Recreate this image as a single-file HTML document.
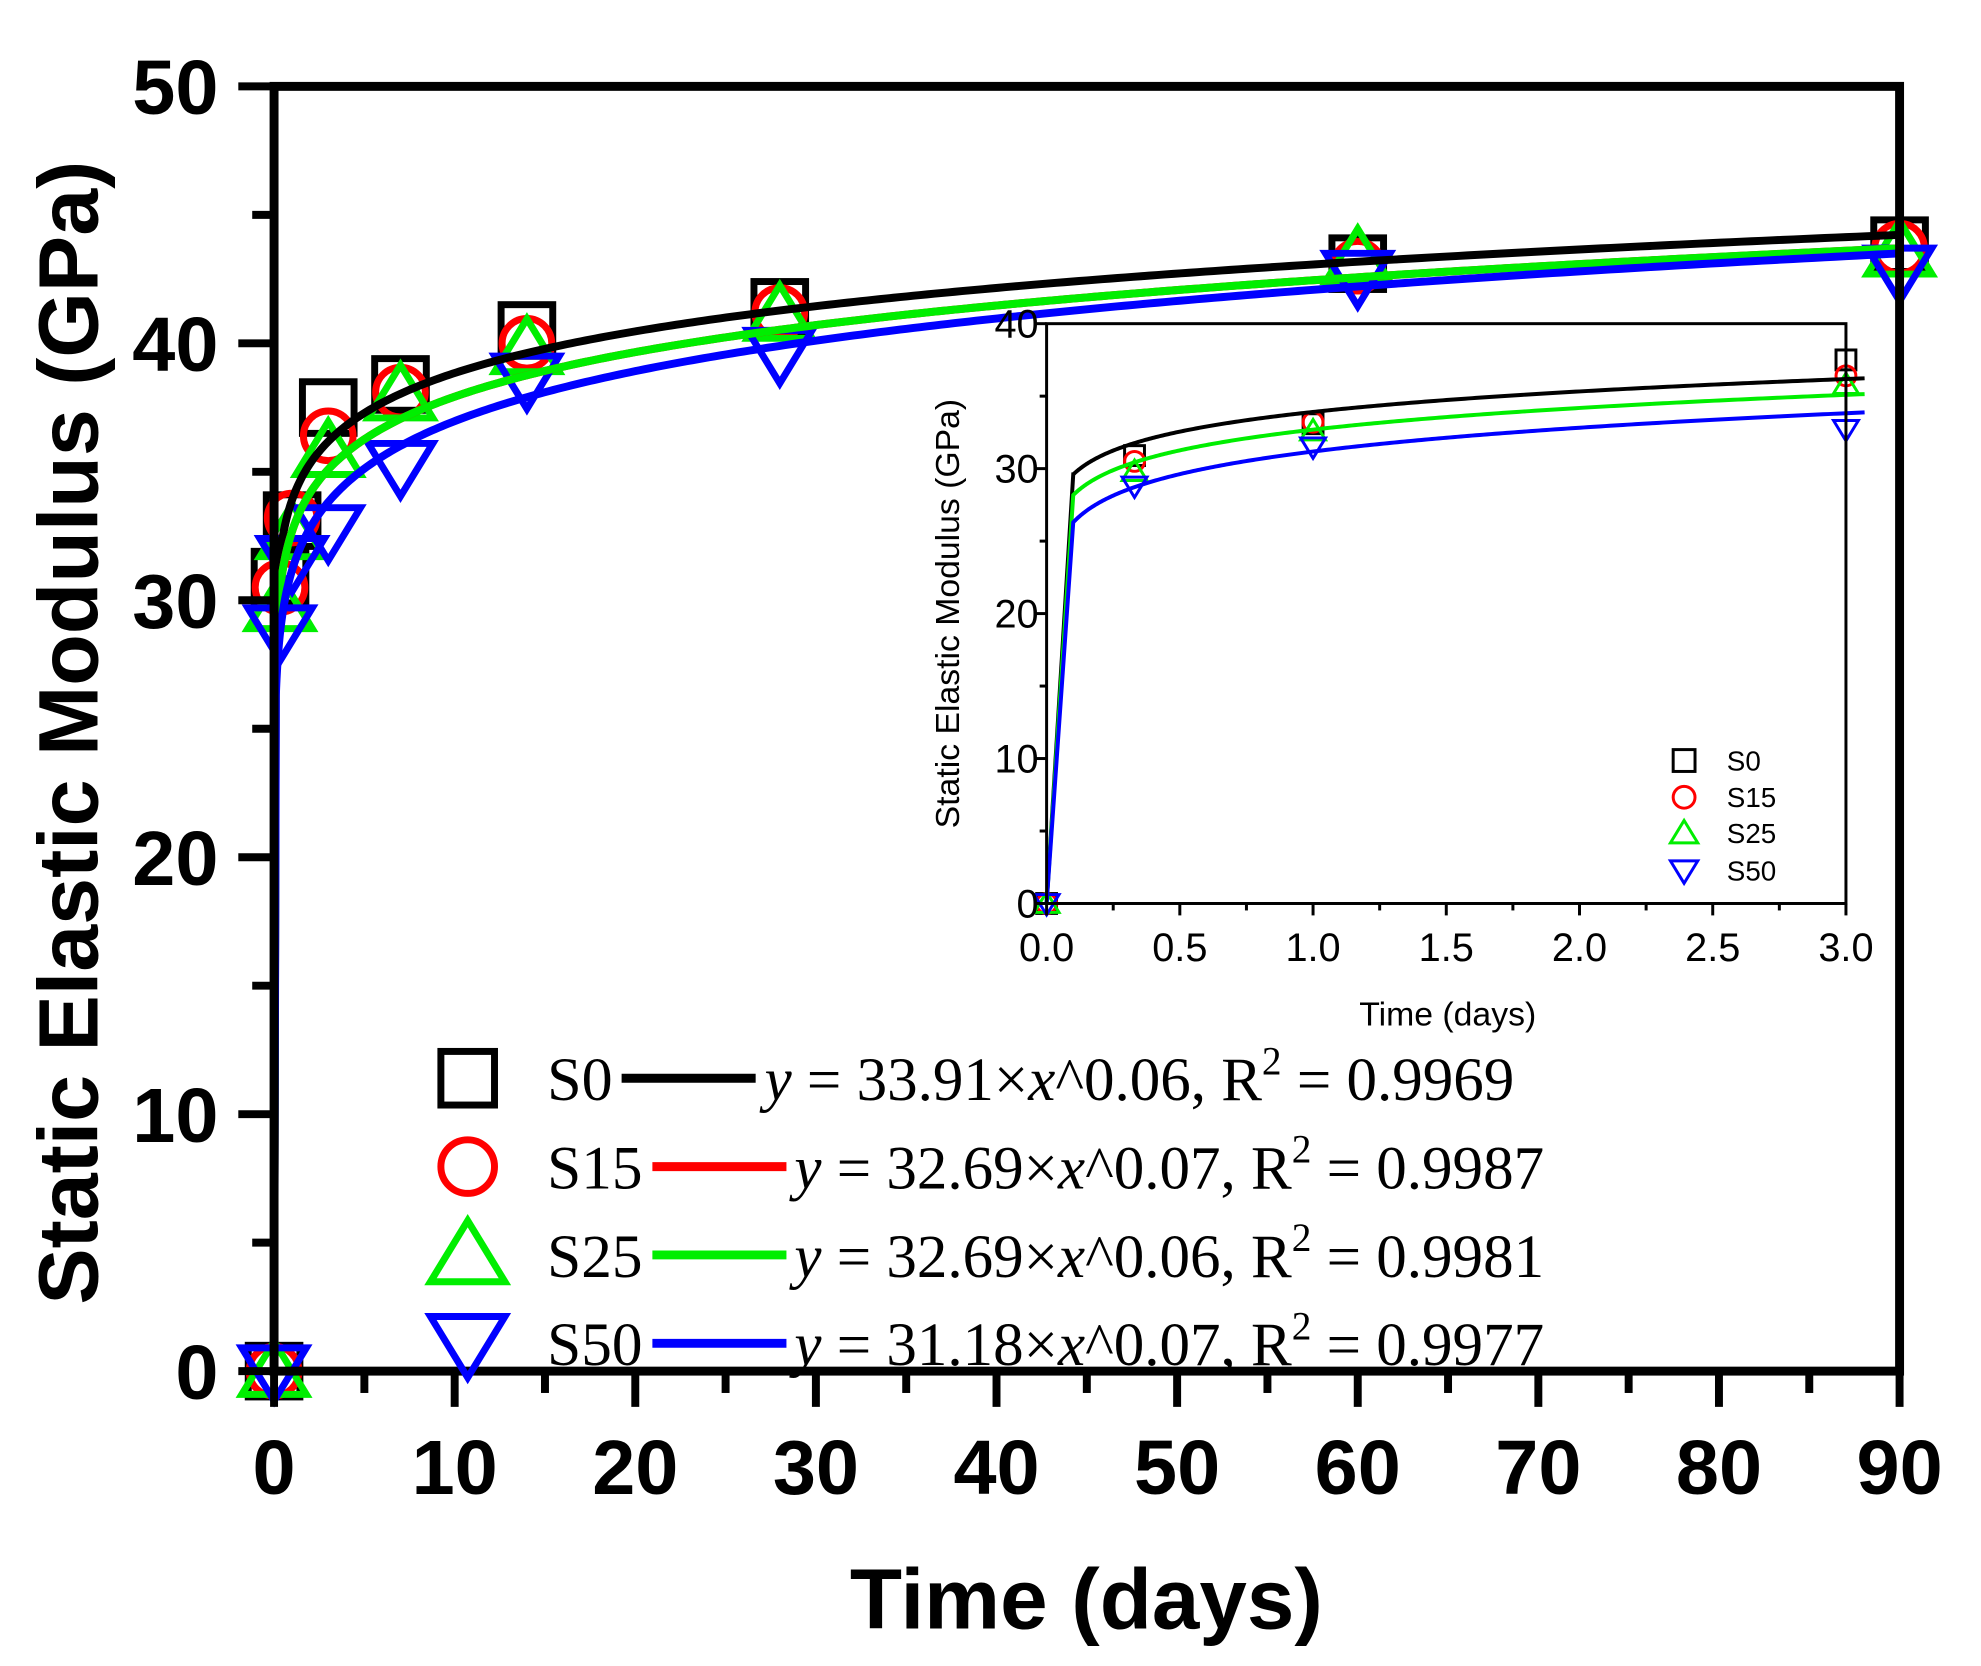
<!DOCTYPE html>
<html><head><meta charset="utf-8"><style>html,body{margin:0;padding:0;background:#fff}svg{display:block}</style></head>
<body>
<svg id="chart" xmlns="http://www.w3.org/2000/svg" width="1981" height="1666" viewBox="0 0 1995 1678" preserveAspectRatio="none">
<rect width="1995" height="1678" fill="#fff"/>
<g id="main"></g>
<g id="inset"></g>
</svg>
<script>
const days = [0, 0.33, 1, 3, 7, 14, 28, 60, 90];
const s0 = [0, 30.9, 33.1, 37.5, 38.4, 40.5, 41.4, 43.1, 43.8];
const s15 = [0, 30.5, 33.2, 36.4, 38.1, 40.0, 41.2, 43.0, 43.7];
const s25 = [0, 29.8, 32.6, 35.8, 38.0, 39.8, 41.1, 43.3, 43.6];
const s50 = [0, 28.8, 31.5, 32.7, 35.2, 38.6, 39.6, 42.6, 42.8];
const fitA = [33.91, 32.69, 32.69, 31.18];
const fitB = [0.059, 0.0645, 0.0645, 0.074];
const seriesNames = ["S0", "S15", "S25", "S50"];
const equations = ["33.91×", "32.69×", "32.69×", "31.18×"];
const eqExp = ["0.06", "0.07", "0.06", "0.07"];
const r2 = ["0.9969", "0.9987", "0.9981", "0.9977"];
const xTicks = [0, 10, 20, 30, 40, 50, 60, 70, 80, 90];
const yTicks = [0, 10, 20, 30, 40, 50];
const insetXTicks = ["0.0", "0.5", "1.0", "1.5", "2.0", "2.5", "3.0"];
const insetYTicks = [0, 10, 20, 30, 40];

const NS = "http://www.w3.org/2000/svg";
const colors = ["#000000", "#ff0000", "#00ee00", "#0000ff"];
const shapes = ["square", "circle", "up", "down"];
const allVals = [s0, s15, s25, s50];
function mk(parent, tag, attrs, text) {
  const e = document.createElementNS(NS, tag);
  for (const k in attrs) e.setAttribute(k, attrs[k]);
  if (text !== undefined) e.textContent = text;
  parent.appendChild(e);
  return e;
}
const M = {l: 276, r: 1913, t: 87, b: 1381, xmax: 90, ymax: 50};
const mx = d => M.l + d * (M.r - M.l) / M.xmax;
const my = v => M.b - v * (M.b - M.t) / M.ymax;
const I = {l: 1054, r: 1859, t: 326, b: 910, xmax: 3, ymax: 40};
const ix = d => I.l + d * (I.r - I.l) / I.xmax;
const iy = v => I.b - v * (I.b - I.t) / I.ymax;

function marker(parent, shape, cx, cy, s, color, sw, name) {
  let e;
  if (shape === "square") e = mk(parent, "rect", {x: cx - s, y: cy - s, width: 2 * s, height: 2 * s});
  else if (shape === "circle") e = mk(parent, "circle", {cx: cx, cy: cy, r: s});
  else if (shape === "up") e = mk(parent, "polygon", {points: `${cx},${cy - s * 1.15} ${cx - s * 1.25},${cy + s * 0.9} ${cx + s * 1.25},${cy + s * 0.9}`});
  else e = mk(parent, "polygon", {points: `${cx},${cy + s * 1.15} ${cx - s * 1.25},${cy - s * 0.9} ${cx + s * 1.25},${cy - s * 0.9}`});
  e.setAttribute("fill", "none");
  e.setAttribute("stroke", color);
  e.setAttribute("stroke-width", sw);
  
  
  return e;
}
function curvePath(i, xf, yf, xmax) {
  let d = `M${xf(0)},${yf(0)}`;
  for (let k = 0; k <= 300; k++) {
    const x = 0.1 + (xmax - 0.1) * Math.pow(k / 300, 2);
    const y = fitA[i] * Math.pow(x, fitB[i]);
    d += ` L${xf(x).toFixed(2)},${yf(y).toFixed(2)}`;
  }
  return d;
}

const main = document.getElementById("main");
for (let i = 0; i < 4; i++) {
  for (let k = 0; k < days.length; k++) {
    marker(main, shapes[i], mx(days[k]), my(allVals[i][k]), i === 1 ? 25 : 26, colors[i], 7, "marker-" + seriesNames[i].toLowerCase() + "-day" + days[k]);
  }
}
for (let i = 0; i < 4; i++) {
  const p = mk(main, "path", {d: curvePath(i, mx, my, 90), fill: "none", stroke: colors[i], "stroke-width": 8});
  
  
}
const fr = mk(main, "rect", {x: M.l, y: M.t, width: M.r - M.l, height: M.b - M.t, fill: "none", stroke: "#000", "stroke-width": 9});


for (let v = 0; v <= 50; v += 5) {
  const major = v % 10 === 0;
  const t = mk(main, "line", {x1: M.l, x2: M.l - (major ? 36 : 22), y1: my(v), y2: my(v), stroke: "#000", "stroke-width": 8});
  
  
}
yTicks.forEach(v => {
  const t = mk(main, "text", {x: 220, y: my(v) + 28, "text-anchor": "end", "font-family": "Liberation Sans, sans-serif", "font-weight": "bold", "font-size": 78}, String(v));
  
  
});
for (let d = 0; d <= 90; d += 5) {
  const major = d % 10 === 0;
  const t = mk(main, "line", {x1: mx(d), x2: mx(d), y1: M.b, y2: M.b + (major ? 36 : 22), stroke: "#000", "stroke-width": 8});
  
  
}
xTicks.forEach(d => {
  const t = mk(main, "text", {x: mx(d), y: 1505, "text-anchor": "middle", "font-family": "Liberation Sans, sans-serif", "font-weight": "bold", "font-size": 78}, String(d));
  
  
});
let tt = mk(main, "text", {x: 1094, y: 1640, "text-anchor": "middle", "font-family": "Liberation Sans, sans-serif", "font-weight": "bold", "font-size": 86}, "Time (days)");


tt = mk(main, "text", {x: 0, y: 0, transform: "translate(98,738) rotate(-90)", "text-anchor": "middle", "font-family": "Liberation Sans, sans-serif", "font-weight": "bold", "font-size": 85}, "Static Elastic Modulus (GPa)");



const legY = [1086, 1175, 1264, 1353];
for (let i = 0; i < 4; i++) {
  const g = mk(main, "g", {});
  
  
  marker(g, shapes[i], 471, legY[i], i === 2 || i === 3 ? 30 : 27, colors[i], 7, "legend-marker-" + seriesNames[i].toLowerCase());
  const lab = mk(g, "text", {x: 551, y: legY[i] + 22, "font-family": "Liberation Serif, serif", "font-size": 62, textLength: i === 0 ? 66 : 96, lengthAdjust: "spacingAndGlyphs"}, seriesNames[i]);
  
  
  const x1 = i === 0 ? 626 : 657, x2 = i === 0 ? 761 : 792;
  const ln = mk(g, "line", {x1: x1, x2: x2, y1: legY[i], y2: legY[i], stroke: colors[i], "stroke-width": 9});
  
  
  const ex = i === 0 ? 770 : 800;
  const eq = mk(g, "text", {x: ex, y: legY[i] + 22, "font-family": "Liberation Serif, serif", "font-size": 62, textLength: 755, lengthAdjust: "spacingAndGlyphs"});
  
  
  mk(eq, "tspan", {"font-style": "italic"}, "y");
  mk(eq, "tspan", {}, " = " + equations[i]);
  mk(eq, "tspan", {"font-style": "italic"}, "x");
  mk(eq, "tspan", {}, "^" + eqExp[i] + ", R");
  mk(eq, "tspan", {dy: -26, "font-size": 40}, "2");
  mk(eq, "tspan", {dy: 26}, " = " + r2[i]);
}

const inset = document.getElementById("inset");


const bg = mk(inset, "rect", {x: I.l, y: I.t, width: I.r - I.l, height: I.b - I.t, fill: "#fff"});


for (let i = 0; i < 4; i++) {
  for (let k = 0; k < days.length; k++) {
    if (days[k] > 3) continue;
    marker(inset, shapes[i], ix(days[k]), iy(allVals[i][k]), 10, colors[i], 3, "inset-marker-" + seriesNames[i].toLowerCase() + "-day" + days[k]);
  }
}
for (let i = 0; i < 4; i++) {
  if (i === 1) continue;
  const p = mk(inset, "path", {d: curvePath(i, ix, iy, 3.07), fill: "none", stroke: colors[i], "stroke-width": 4});
  
  
}
const ifr = mk(inset, "rect", {x: I.l, y: I.t, width: I.r - I.l, height: I.b - I.t, fill: "none", stroke: "#000", "stroke-width": 3});


for (let v = 0; v <= 40; v += 5) {
  const t = mk(inset, "line", {x1: I.l, x2: I.l - (v % 10 === 0 ? 12 : 7), y1: iy(v), y2: iy(v), stroke: "#000", "stroke-width": 3});
  
  
}
insetYTicks.forEach(v => {
  const t = mk(inset, "text", {x: 1046, y: iy(v) + 14, "text-anchor": "end", "font-family": "Liberation Sans, sans-serif", "font-size": 40}, String(v));
  
  
});
for (let d = 0; d <= 12; d++) {
  const t = mk(inset, "line", {x1: ix(d / 4), x2: ix(d / 4), y1: I.b, y2: I.b + (d % 2 === 0 ? 12 : 7), stroke: "#000", "stroke-width": 3});
  
  
}
insetXTicks.forEach(s => {
  const t = mk(inset, "text", {x: ix(parseFloat(s)), y: 968, "text-anchor": "middle", "font-family": "Liberation Sans, sans-serif", "font-size": 40}, s);
  
  
});
tt = mk(inset, "text", {x: 1458, y: 1033, "text-anchor": "middle", "font-family": "Liberation Sans, sans-serif", "font-size": 34}, "Time (days)");


tt = mk(inset, "text", {x: 0, y: 0, transform: "translate(966,618) rotate(-90)", "text-anchor": "middle", "font-family": "Liberation Sans, sans-serif", "font-size": 34}, "Static Elastic Modulus (GPa)");


const iLegY = [766, 803, 839, 877];
for (let i = 0; i < 4; i++) {
  const g = mk(inset, "g", {});
  
  
  marker(g, shapes[i], 1696, iLegY[i], 11, colors[i], 3, "inset-legend-marker");
  const l = mk(g, "text", {x: 1739, y: iLegY[i] + 10, "font-family": "Liberation Sans, sans-serif", "font-size": 28}, seriesNames[i]);
  
  
}
</script>
</body></html>
